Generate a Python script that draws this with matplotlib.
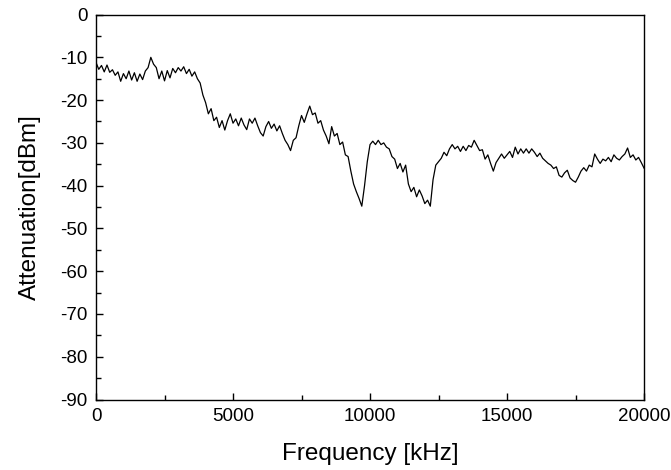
import numpy as np
import matplotlib
matplotlib.use("Agg")
import matplotlib.pyplot as plt
from matplotlib.ticker import MultipleLocator

# ── Data (100 kHz grid) ──────────────────────────────────────────────────────
freq_start, freq_stop, freq_step = 0, 20000, 100

atten_0_3300 = [
    -11.2, -12.8, -11.9, -13.4, -11.8, -13.5, -12.9, -14.2, -13.4, -15.6,
    -13.8, -15.0, -13.2, -15.3, -13.6, -15.6, -13.9, -15.2, -13.2, -12.4,
    -10.0, -11.6, -12.4, -15.0, -13.2, -15.5, -13.1, -14.8, -12.6, -13.6,
    -12.4, -13.2, -12.2, -13.8,
]
atten_3400_6900 = [
    -12.8, -14.4, -13.4, -15.0, -16.0, -18.8, -20.6, -23.2, -22.0, -24.8,
    -24.0, -26.4, -24.8, -27.0, -24.8, -23.2, -25.4, -24.4, -26.0, -24.2,
    -25.8, -26.9, -24.4, -25.4, -24.2, -26.0, -27.6, -28.4, -26.2, -25.0,
    -26.6, -25.6, -27.2, -26.0, -27.8, -29.4,
]
atten_7000_10400 = [
    -30.4, -31.8, -29.4, -28.8, -26.0, -23.6, -25.2, -23.2, -21.4, -23.4,
    -23.0, -25.4, -24.8, -27.0, -28.4, -30.2, -26.2, -28.4, -27.8, -30.4,
    -29.8, -32.8, -33.2, -36.6, -39.6, -41.4, -43.0, -44.8, -40.0, -34.4,
    -30.4, -29.6, -30.4, -29.4, -30.4,
]
atten_10500_14000 = [
    -30.0, -31.0, -31.4, -33.2, -33.8, -36.0, -34.8, -36.8, -35.2, -39.6,
    -41.4, -40.4, -42.6, -41.0, -42.4, -44.2, -43.4, -44.8, -38.6, -35.2,
    -34.4, -33.6, -32.2, -33.0, -31.4, -30.4, -31.4, -30.8, -32.0, -30.8,
    -31.8, -30.6, -31.0, -29.4, -30.6, -31.8,
]
atten_14100_17400 = [
    -31.6, -33.8, -32.8, -34.8, -36.6, -34.6, -33.6, -32.6, -33.6, -32.8,
    -32.0, -33.4, -31.0, -32.6, -31.4, -32.4, -31.4, -32.4, -31.4, -32.2,
    -33.2, -32.4, -33.6, -34.2, -34.8, -35.2, -36.0, -35.6, -37.6, -38.0,
    -37.0, -36.4, -38.2, -38.8,
]
atten_17500_20000 = [
    -39.2, -38.0, -36.6, -35.8, -36.6, -35.2, -35.6, -32.6, -33.8, -34.8,
    -33.8, -34.2, -33.4, -34.4, -32.8, -33.6, -34.0, -33.2, -32.6, -31.2,
    -33.4, -32.8, -34.0, -33.4, -34.6, -35.9,
]

attenuation = np.array(atten_0_3300 + atten_3400_6900 + atten_7000_10400
                       + atten_10500_14000 + atten_14100_17400 + atten_17500_20000)
frequency = np.arange(freq_start, freq_stop + freq_step, freq_step)

# ── Plot ──────────────────────────────────────────────────────────────────────
plt.rcParams["font.family"] = ["Liberation Sans", "DejaVu Sans"]
plt.rcParams["axes.unicode_minus"] = False

fig = plt.figure(figsize=(6.71, 4.70), dpi=100)
ax = fig.add_axes([0.1431, 0.150, 0.8167, 0.819])

ax.plot(frequency, attenuation, color="black", lw=0.9)

ax.set_xlim(0, 20000)
ax.set_ylim(-90, 0)
ax.xaxis.set_major_locator(MultipleLocator(5000))
ax.xaxis.set_minor_locator(MultipleLocator(2500))
ax.yaxis.set_major_locator(MultipleLocator(10))
ax.yaxis.set_minor_locator(MultipleLocator(5))

ax.tick_params(which="both", direction="in", top=False, right=False,
               labelsize=13.5, width=1.0)
ax.tick_params(which="major", length=5)
ax.tick_params(which="minor", length=3.5)
ax.tick_params(axis="y", pad=6)
ax.tick_params(axis="x", pad=6)

for sp in ax.spines.values():
    sp.set_linewidth(1.0)

ax.set_xlabel("Frequency [kHz]", fontsize=17.5, labelpad=13)
ax.set_ylabel("Attenuation[dBm]", fontsize=17.5, labelpad=14)

fig.savefig("out.png", dpi=100)
